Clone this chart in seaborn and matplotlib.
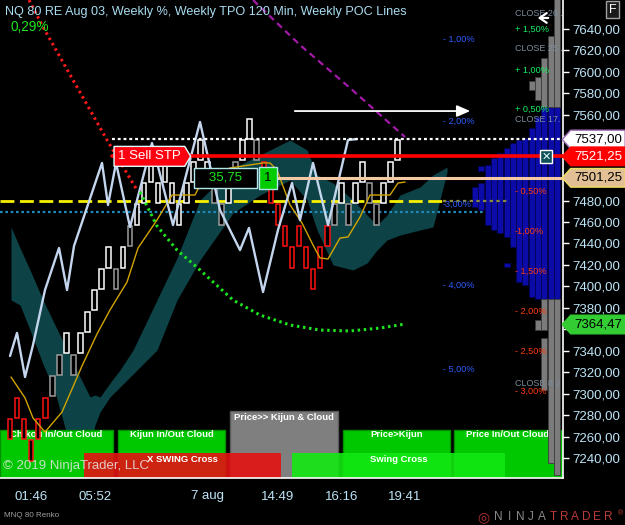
import matplotlib
matplotlib.use("Agg")
import matplotlib.pyplot as plt
from matplotlib.path import Path
from matplotlib.patches import Rectangle
import seaborn as sns

# ---------------- data ----------------
brick_low = [7257, 7277, 7257, 7237, 7257, 7277, 7297, 7317, 7337, 7317,
             7337, 7357, 7377, 7397, 7417, 7397, 7417, 7437, 7457, 7477,
             7497, 7477, 7497, 7477, 7457, 7477, 7497, 7517, 7497, 7477,
             7457, 7477, 7497, 7517, 7537, 7517, 7497, 7477, 7457, 7437,
             7417, 7437, 7417, 7397, 7417, 7437, 7457, 7477, 7457, 7477,
             7497, 7477, 7457, 7477, 7497, 7517]
brick_kind = ("dddddd" "ggug" "uuuuu" "gug" "uuuuuuuuuuu" "gg" "u" "g" "uu" "g"
              "dddddddddd" "g" "u" "g" "uu" "gg" "uuu")
brick_size = 20

x_tick_bars = [3, 12, 21, 28, 38, 47, 56]
x_tick_labels = ["01:46", "05:52", "", "7 aug", "14:49", "16:16", "19:41"]
y_ticks = list(range(7240, 7641, 20))
y_hidden = [7360, 7500, 7520, 7540]

chikou_x = [0.00, 0.99, 2.13, 3.26, 4.96, 6.95, 8.09, 9.08, 13.05, 13.90, 15.04,
            17.02, 20.14, 23.12, 26.95, 29.79, 32.62, 33.90, 35.89, 38.01, 40.0,
            41.13, 42.98, 45.11, 47.94, 49.22]
chikou_y = [7335.1, 7356.6, 7315.5, 7345.4, 7396.6, 7435.8, 7396.6, 7437.7, 7515.1,
            7475.9, 7515.1, 7455.4, 7533.7, 7457.2, 7553.3, 7471.2, 7433.9, 7454.5,
            7394.8, 7452.6, 7496.4, 7461.9, 7515.1, 7457.2, 7536.5, 7537.4]

kijun_x = [0.14, 2.13, 3.26, 4.96, 7.38, 10.21, 12.34, 14.18, 16.60, 18.16, 20.85,
           22.98, 26.24, 26.95, 31.21, 35.89, 36.88, 37.87, 39.72, 41.42, 42.98,
           43.97, 45.11, 46.81, 47.94, 49.65, 51.06, 53.90, 55.04, 56.03]
kijun_y = [7315.5, 7296.0, 7277.3, 7264.2, 7282.9, 7325.8, 7355.6, 7378.0, 7404.1,
           7435.8, 7461.9, 7485.2, 7485.2, 7494.5, 7510.4, 7515.1, 7515.1, 7508.5,
           7476.0, 7459.1, 7438.6, 7426.5, 7425.6, 7445.1, 7446.1, 7464.7, 7485.2,
           7485.2, 7496.4, 7497.3]

cloud_x = [0.14, 1.42, 2.84, 4.68, 6.38, 8.09, 9.65, 11.35, 12.06, 12.77, 14.18,
           15.60, 17.45, 19.15, 20.85, 23.69, 26.95, 31.63, 35.46, 39.72, 42.13,
           43.55, 45.82, 48.65, 50.64, 52.06, 53.48, 55.32, 58.16, 60.0, 61.99]
cloud_top = [7455.4, 7435.8, 7415.3, 7387.3, 7364.0, 7340.7, 7319.3, 7296.9, 7298.7,
             7296.9, 7309.9, 7322.1, 7340.7, 7364.0, 7387.3, 7426.5, 7480.6, 7510.4,
             7522.5, 7536.5, 7527.2, 7503.9, 7496.4, 7480.6, 7466.6, 7457.2, 7466.6,
             7485.2, 7492.7, 7503.9, 7511.3]
cloud_bot = [7387.3, 7382.7, 7359.3, 7327.6, 7301.5, 7261.4, 7250.3, 7250.3, 7270.8,
             7282.9, 7296.9, 7306.2, 7318.3, 7329.5, 7340.7, 7387.3, 7424.6, 7468.4,
             7485.2, 7499.2, 7480.6, 7452.6, 7420.0, 7415.3, 7421.8, 7433.9, 7443.3,
             7447.9, 7452.6, 7455.4, 7506.7]

sar_red_x = [2.70, 4.68, 13.76, 18.01]
sar_red_y = [7667.0, 7641.9, 7536.5, 7489.9]
sar_green_x = [18.44, 20.85, 23.69, 26.95, 31.63, 35.46, 39.72, 43.97, 48.23, 52.48, 56.03]
sar_green_y = [7488.0, 7456.3, 7433.9, 7415.3, 7387.3, 7373.3, 7364.0, 7359.3, 7358.4,
               7361.2, 7364.9]
magenta_x = [34.47, 41.13, 48.23, 56.03]
magenta_y = [7667.0, 7625.1, 7585.0, 7539.3]

level_yellow = 7480.0
level_blue = 7469.4
last_price = 7537.00
sell_stop = 7521.25
entry_price = 7501.25
sar_price = 7364.47
pnl_text = "35,75"
qty_text = "1"
arrow_level = 7563.5
arrow_x = [40.0, 65.67]
back_arrow_x = [76.74, 74.47]
back_arrow_level = 7650.3

prof_col = [65.96, 66.86, 67.75, 68.65, 69.54, 70.44, 71.33, 72.23, 73.12, 74.02,
            74.91, 75.81, 76.70, 77.60]
prof_blue_lo = [7474.0, 7471.2, 7457.2, 7452.6, 7449.8, 7446.1, 7436.7, 7404.0, 7401.2,
                7390.0, 7388.1, 7388.1, 7388.1, 7388.1]
prof_blue_hi = [7492.7, 7496.4, 7513.2, 7519.7, 7524.4, 7529.0, 7533.7, 7536.5, 7538.4,
                7547.7, 7558.0, 7567.3, 7567.3, 7567.3]
prof_blue_extra = [(1, 7507.6, 7512.3), (5, 7418.1, 7421.8)]
prof_gray = [(9, 7583.1, 7591.5), (10, 7573.8, 7595.2), (10, 7359.3, 7368.7),
             (11, 7567.3, 7613.0), (11, 7359.3, 7388.1), (11, 7303.4, 7351.9),
             (12, 7567.3, 7633.5), (12, 7235.3, 7388.1),
             (13, 7567.3, 7680.0), (13, 7224.2, 7388.1)]

pct_blue = [("- 1,00%", 7630.4), ("- 2,00%", 7553.6), ("-3,00%", 7476.8),
            ("- 4,00%", 7400.7), ("- 5,00%", 7322.7)]
pct_red = [("- 0,50%", 7489.0), ("-1,00%", 7451.7), ("- 1,50%", 7413.7),
           ("- 2,00%", 7377.1), ("- 2,50%", 7339.1), ("- 3,00%", 7301.8)]
pct_green = [("+ 1,50%", 7639.7), ("+ 1,00%", 7601.8), ("+ 0,50%", 7565.1)]
close_labels = [("CLOSE 26 .", 7654.6), ("CLOSE 25 .", 7621.4),
                ("CLOSE 17.", 7555.8), ("CLOSE 8 J", 7309.7)]

panel_labels = ["Chikou In/Out Cloud", "Kijun In/Out Cloud", "Price>> Kijun & Cloud",
                "Price>Kijun", "Price In/Out Cloud"]
panel_colors = ["#00c800", "#00c800", "#7f7f7f", "#00c800", "#00c800"]
swing_labels = ["X SWING Cross", "Swing Cross"]
swing_colors = ["#e41212", "#12e812"]

title = "NQ 80 RE Aug 03, Weekly %, Weekly TPO 120 Min, Weekly POC Lines"
change_text = "0,29%"

# ---------------- style ----------------
sns.set_style("dark", {"axes.facecolor": "black", "figure.facecolor": "black"})
plt.rcParams["font.family"] = ["Liberation Sans", "DejaVu Sans"]
TXT = "#bde4f7"

fig = plt.figure(figsize=(6.25, 5.25), dpi=100, facecolor="black")
ax = fig.add_axes([0, 47 / 525, 563 / 625, 478 / 525])
ax.set_facecolor("black")
ax.set_xlim(-1.42, 78.44)
ax.set_ylim(7221.35, 7667.04)
ax.grid(False)


def tag_left(x0, y0, width, height, mutation_size):
    pad = 0.25 * mutation_size
    x0, y0, w, h = x0 - pad, y0 - pad, width + 2 * pad, height + 2 * pad
    t = h * 0.45
    v = [(x0 - t, y0 + h / 2), (x0, y0 + h), (x0 + w, y0 + h), (x0 + w, y0),
         (x0, y0), (x0 - t, y0 + h / 2)]
    return Path(v, [Path.MOVETO] + [Path.LINETO] * 4 + [Path.CLOSEPOLY])


def tag_right(x0, y0, width, height, mutation_size):
    pad = 0.3 * mutation_size
    x0, y0, w, h = x0 - pad, y0 - pad, width + 2 * pad, height + 2 * pad
    t = h * 0.3
    v = [(x0, y0), (x0, y0 + h), (x0 + w, y0 + h), (x0 + w + t, y0 + h / 2),
         (x0 + w, y0), (x0, y0)]
    return Path(v, [Path.MOVETO] + [Path.LINETO] * 4 + [Path.CLOSEPOLY])


# cloud
ax.fill_between(cloud_x, cloud_bot, cloud_top, color="#0d4246", lw=0, zorder=1)

# bottom indicator panels (axes fractions)
panel_x = [(0.0, 0.2007), (0.2096, 0.3996), (0.4085, 0.6003), (0.6092, 0.7993), (0.8064, 0.9982)]
panel_top = [0.1004, 0.1004, 0.1402, 0.1004, 0.1004]
panel_ty = [0.090, 0.090, 0.1276, 0.090, 0.090]
for lab, (x0, x1), top, ty, fc in zip(panel_labels, panel_x, panel_top, panel_ty, panel_colors):
    ax.add_patch(Rectangle((x0, 0), x1 - x0, top, transform=ax.transAxes, fc=fc,
                           ec="#009000" if fc != "#7f7f7f" else "#5a5a5a", lw=1, zorder=1.5))
    ax.text((x0 + x1) / 2, ty, lab, transform=ax.transAxes, ha="center", va="center",
            color="white", fontsize=6.8, fontweight="bold", zorder=1.7)
swing_x = [(0.1492, 0.4991), (0.5187, 0.8970)]
for lab, (x0, x1), fc in zip(swing_labels, swing_x, swing_colors):
    ax.add_patch(Rectangle((x0, 0), x1 - x0, 0.0523, transform=ax.transAxes, fc=fc,
                           alpha=0.9, lw=0, zorder=1.6))
    ax.text((x0 + x1) / 2, 0.0397, lab, transform=ax.transAxes, ha="center", va="center",
            color="white", fontsize=6.8, fontweight="bold", zorder=1.7)

# volume / TPO profile
ax.bar(prof_col, [h - l for l, h in zip(prof_blue_lo, prof_blue_hi)], bottom=prof_blue_lo,
       width=0.85, color="#0b0ba8", edgecolor="#030350", linewidth=0.6, zorder=2)
ax.bar([prof_col[i] for i, _, _ in prof_blue_extra], [h - l for _, l, h in prof_blue_extra],
       bottom=[l for _, l, _ in prof_blue_extra], width=0.85, color="#0b0ba8",
       edgecolor="#030350", linewidth=0.6, zorder=2)
ax.bar([prof_col[i] for i, _, _ in prof_gray], [h - l for _, l, h in prof_gray],
       bottom=[l for _, l, _ in prof_gray], width=0.85, color="#7b7b7b",
       edgecolor="#3c3c3c", linewidth=0.6, zorder=2)

# close labels (drawn over the profile, grey on grey)
for lab, y in close_labels:
    ax.text(0.9147, y, lab, transform=ax.get_yaxis_transform(), color="#7d8c9c",
            fontsize=6.5, va="center", ha="left", zorder=2.5)

# horizontal levels
ax.axhline(level_yellow, 0, 0.787, color="#f8f000", ls=(0, (5, 2)), lw=2, zorder=3)
ax.axhline(level_yellow, 0.787, 0.902, color="#8c8a3c", ls=(0, (1.5, 1.5)), lw=1.6, zorder=3)
ax.axhline(level_blue, 0, 0.861, color="#1f88b8", ls=(0, (1.2, 1.2)), lw=1.6, zorder=3)

# renko bricks
kind_color = {"u": "#ffffff", "g": "#9c9c9c", "d": "#ff1010"}
ax.bar(list(range(len(brick_low))), [brick_size - 1.2] * len(brick_low),
       bottom=[v + 0.6 for v in brick_low], width=0.64, color="black",
       edgecolor=[kind_color[k] for k in brick_kind], linewidth=1.1, zorder=4)

# indicator lines
sns.lineplot(x=kijun_x, y=kijun_y, ax=ax, color="#d2a400", lw=1.0, sort=False,
             estimator=None, zorder=5)
sns.lineplot(x=chikou_x, y=chikou_y, ax=ax, color="#c4d6ee", lw=1.7, sort=False,
             estimator=None, zorder=6)
sns.lineplot(x=sar_red_x, y=sar_red_y, ax=ax, color="#ff1a1a", lw=2.2, sort=False,
             estimator=None, linestyle=(0, (0.8, 1.2)), zorder=6)
sns.lineplot(x=sar_green_x, y=sar_green_y, ax=ax, color="#1ee61e", lw=2.2, sort=False,
             estimator=None, linestyle=(0, (0.8, 1.2)), zorder=6)
sns.lineplot(x=magenta_x, y=magenta_y, ax=ax, color="#a21aa8", lw=1.6, sort=False,
             estimator=None, linestyle=(0, (3, 2)), zorder=6)

# order lines
ax.axhline(last_price, 0.199, 1, color="white", ls=(0, (1.3, 1.3)), lw=1.6, zorder=7)
ax.axhline(sell_stop, 0.199, 1, color="#ff0000", lw=2.6, zorder=7)
ax.axhline(entry_price, 0.492, 1, color="#f2c9a2", lw=2.2, zorder=7)

ax.annotate("", xy=(arrow_x[1], arrow_level), xytext=(arrow_x[0], arrow_level),
            arrowprops=dict(arrowstyle="-|>,head_length=0.8,head_width=0.35", color="white", lw=1.3),
            zorder=7)
ax.annotate("", xy=(back_arrow_x[1], back_arrow_level), xytext=(back_arrow_x[0], back_arrow_level),
            arrowprops=dict(arrowstyle="->,head_length=0.5,head_width=0.35", color="white", lw=1.6),
            zorder=7)

ax.text(0.2096, sell_stop, "1 Sell STP", transform=ax.get_yaxis_transform(), ha="left",
        va="center", color="white", fontsize=9.5, zorder=8,
        bbox=dict(boxstyle=tag_right, fc="#ff0010", ec="#e0ffff", lw=1))
ax.text(0.401, entry_price, "   " + pnl_text + "   ", transform=ax.get_yaxis_transform(),
        ha="center", va="center", color="#1ee61e", fontsize=9.5, zorder=8,
        bbox=dict(boxstyle="square,pad=0.3", fc="black", ec="#b4e8e8", lw=1))
ax.text(0.476, entry_price, qty_text, transform=ax.get_yaxis_transform(), ha="center",
        va="center", color="black", fontsize=9.5, zorder=8,
        bbox=dict(boxstyle="square,pad=0.38", fc="#00cc00", ec="#b4e8e8", lw=1))
ax.text(0.9698, sell_stop, "\u2715", transform=ax.get_yaxis_transform(), ha="center",
        va="center", color="#e8ffff", fontsize=8, fontweight="bold", zorder=8,
        family=["DejaVu Sans"],
        bbox=dict(boxstyle="square,pad=0.15", fc="#105058", ec="white", lw=1))

# percent labels
for lab, y in pct_blue:
    ax.text(0.7869, y, lab, transform=ax.get_yaxis_transform(), color="#2f5cff",
            fontsize=6.6, va="center", ha="left", zorder=8)
for lab, y in pct_red:
    ax.text(0.9147, y, lab, transform=ax.get_yaxis_transform(), color="#ff3a10",
            fontsize=6.6, va="center", ha="left", zorder=8)
for lab, y in pct_green:
    ax.text(0.9147, y, lab, transform=ax.get_yaxis_transform(), color="#14f060",
            fontsize=6.6, va="center", ha="left", zorder=8)

# texts
ax.text(0.0089, 0.975, title, transform=ax.transAxes, color="#a8dcf0", fontsize=9.05,
        va="center", ha="left", zorder=9)
ax.text(0.0178, 0.9435, change_text, transform=ax.transAxes, color="#1ee61e",
        fontsize=9.8, va="center", ha="left", zorder=9)
ax.text(0.005, 0.025, "\u00a9 2019 NinjaTrader, LLC", transform=ax.transAxes,
        color="#e6e6e6", alpha=0.85, fontsize=9.5, va="center", ha="left", zorder=9)

# right side price tags
for val, fc, ec, tc in [(last_price, "#ffffff", "#a070b8", "black"),
                        (sell_stop, "#ff0000", "#ff0000", "white"),
                        (entry_price, "#e2bf95", "#f0e060", "black"),
                        (sar_price, "#33cc33", "#33cc33", "black")]:
    ax.text(1.0195, val, f"{val:.2f}".replace(".", ","), transform=ax.get_yaxis_transform(),
            ha="left", va="center", color=tc, fontsize=9.5, zorder=10, clip_on=False,
            bbox=dict(boxstyle=tag_left, fc=fc, ec=ec, lw=1))

# axes
ax.set_xticks(x_tick_bars)
ax.set_xticklabels(x_tick_labels)
ax.yaxis.tick_right()
ax.set_yticks(y_ticks)
ax.set_yticklabels(["" if v in y_hidden else f"{v:.2f}".replace(".", ",") for v in y_ticks])
ax.tick_params(axis="both", colors="white", labelcolor=TXT, labelsize=9.5, length=4,
               width=1, direction="out")
ax.tick_params(axis="y", pad=2.5)
ax.tick_params(axis="x", pad=5)
ax.set_xlabel("")
ax.set_ylabel("")
for s in ["top", "left"]:
    ax.spines[s].set_visible(False)
for s in ["bottom", "right"]:
    ax.spines[s].set_visible(True)
    ax.spines[s].set_color("white")
    ax.spines[s].set_linewidth(1.2)

# figure texts
fig.text(0.0064, 0.019, "MNQ 80 Renko", color="#a0a0a0", fontsize=5.8, va="center", ha="left")
fig.text(0.98, 0.981, "F", color="white", fontsize=9, ha="center", va="center",
         bbox=dict(boxstyle="square,pad=0.2", fc="#1a1a1a", ec="#a0a0a0", lw=1))
fig.text(0.773, 0.015, "\u25ce", color="#b03030", fontsize=10, ha="center", va="center",
         family=["DejaVu Sans"])
for i, ch in enumerate("NINJATRADER"):
    fig.text(0.797 + i * 0.0176, 0.015, ch, color="#8a8a8a" if i < 5 else "#bb3a3a",
             fontsize=8.5, ha="center", va="center")
fig.text(0.993, 0.022, "\u00ae", color="#bb3a3a", fontsize=5, ha="center", va="center")

fig.savefig("out.png", dpi=100, facecolor="black")
